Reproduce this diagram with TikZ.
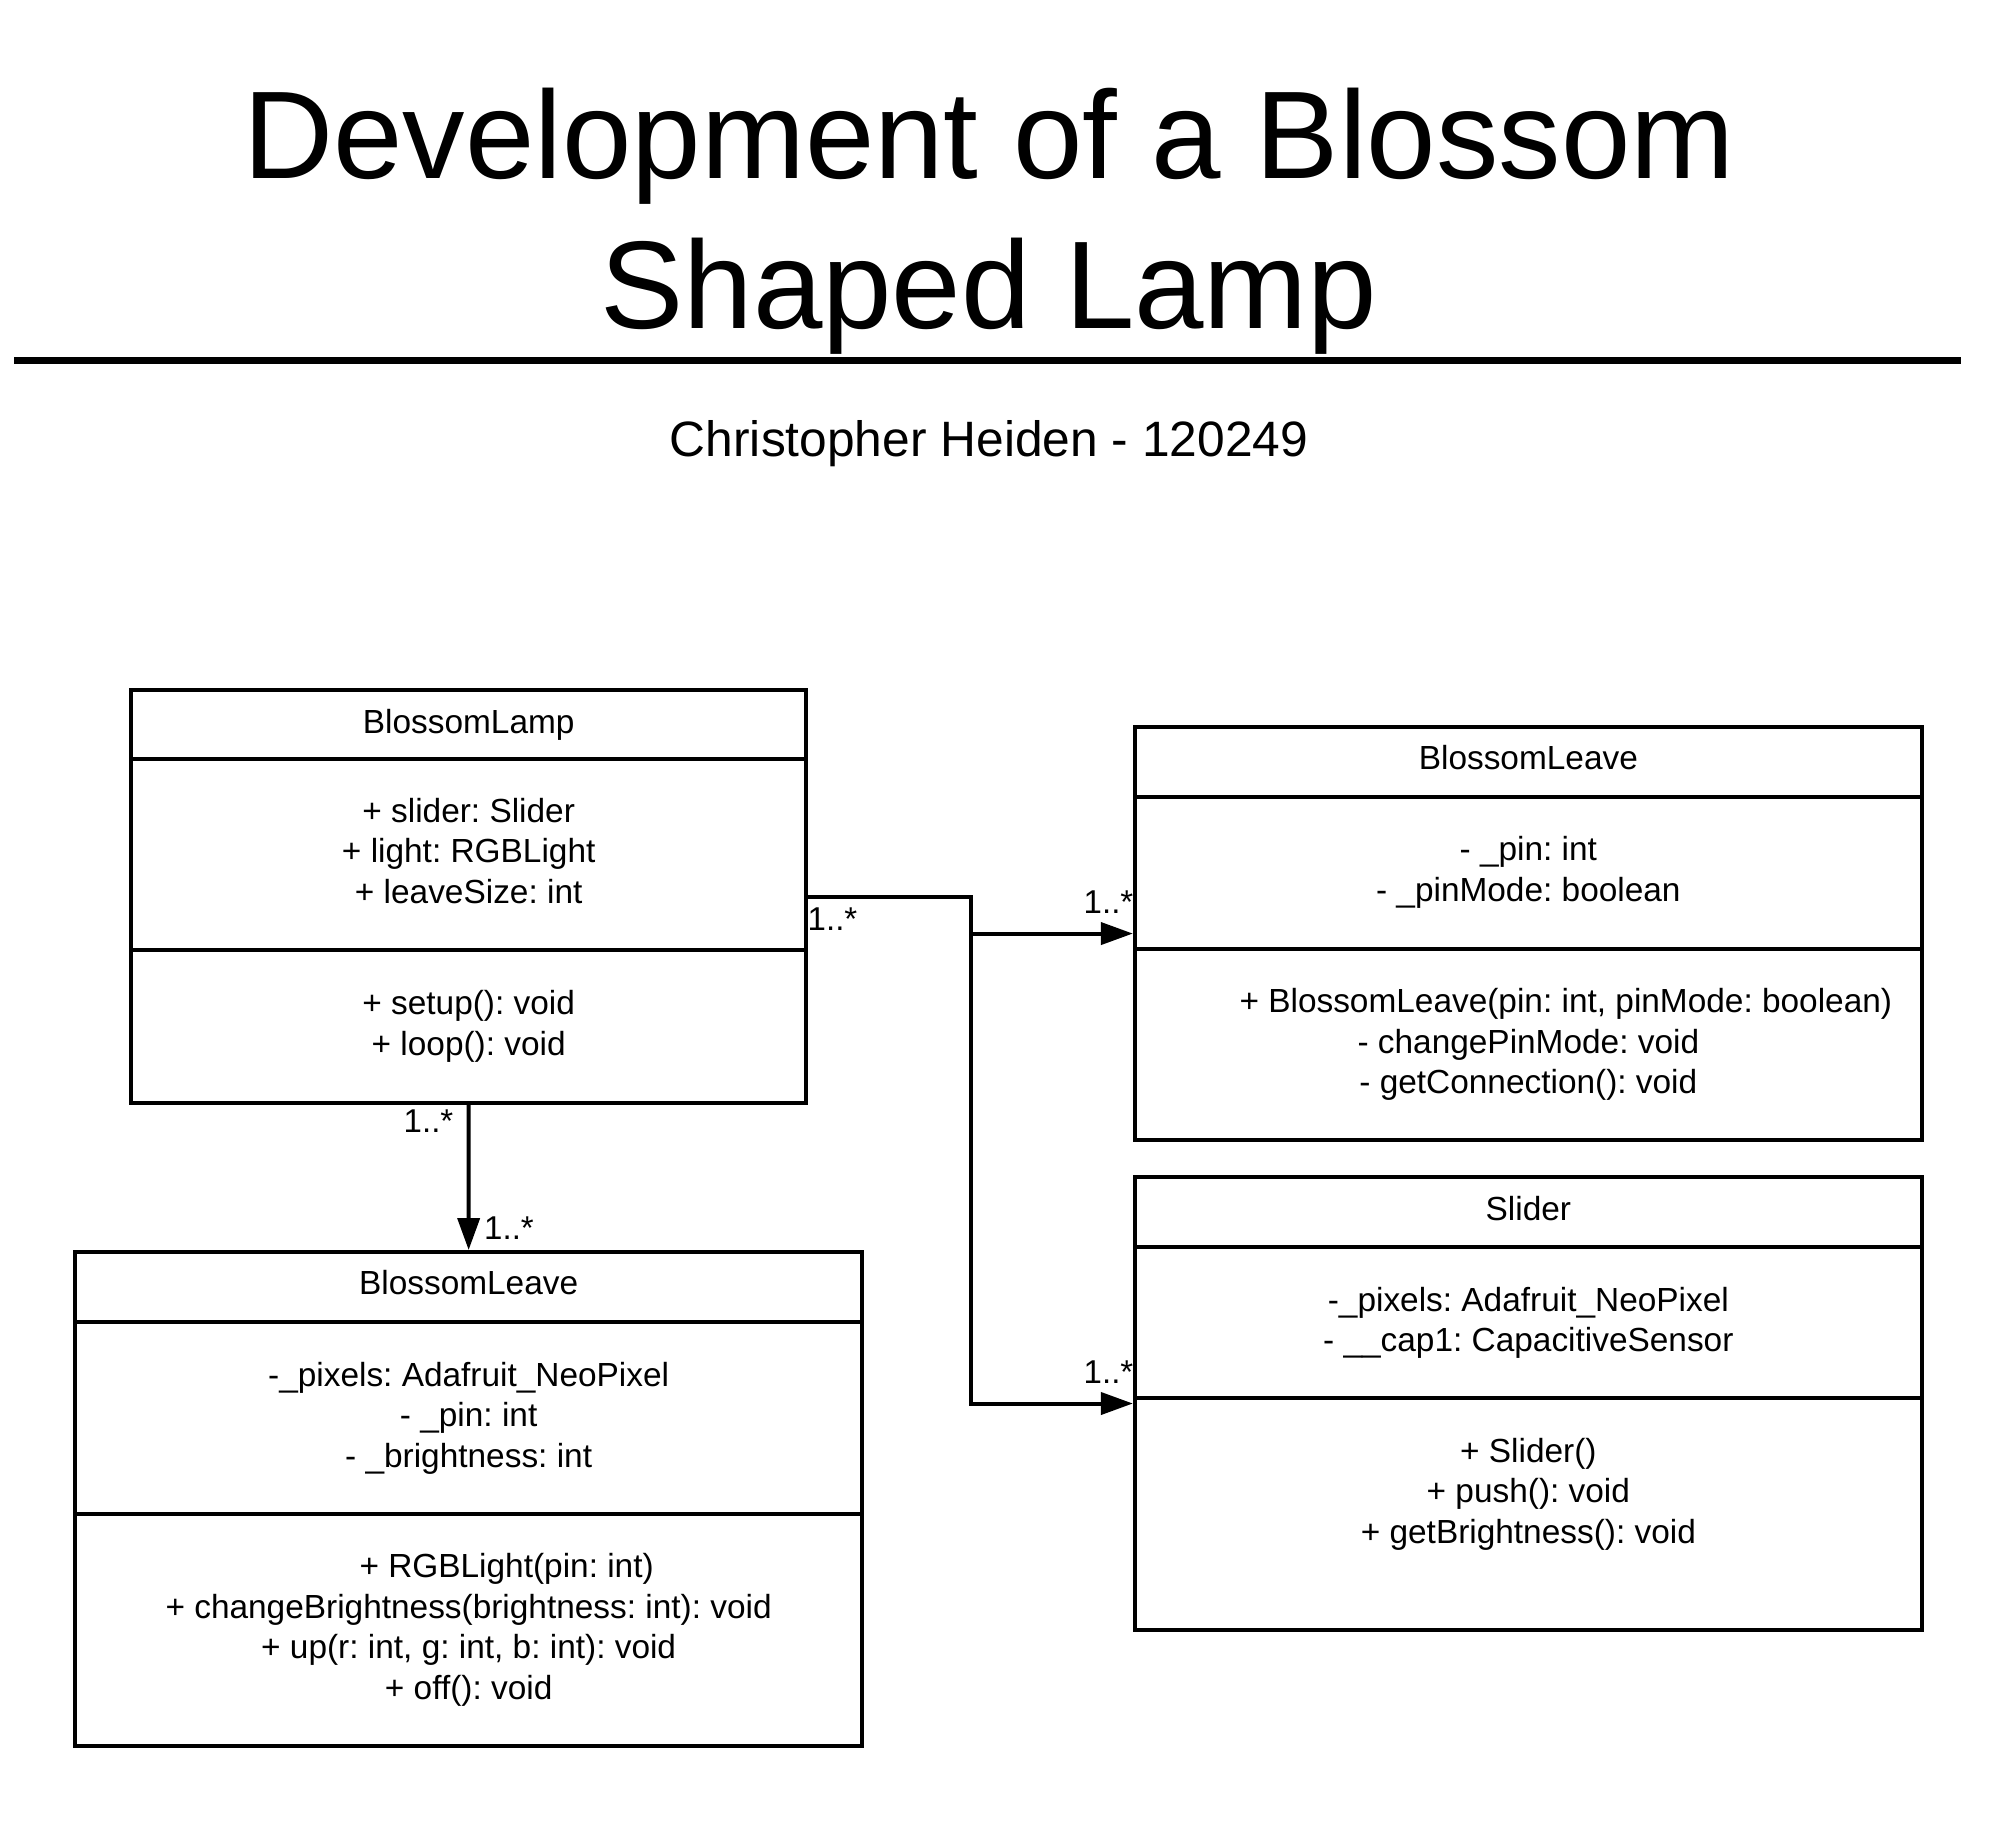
\documentclass[tikz,border=0pt]{standalone}
\usepackage{fontspec}
\setmainfont{Liberation Sans}
\usetikzlibrary{arrows.meta}
\frenchspacing
\begin{document}
\begin{tikzpicture}[x=1pt,y=-1pt,
  box/.style={draw=black, line width=4pt, inner sep=0pt},
  body/.style={font=\fontsize{33.4}{40.6}\selectfont, align=center, inner sep=0pt, text=black},
  mult/.style={font=\fontsize{33}{40}\selectfont, inner sep=0pt, text=black},
  arr/.style={line width=4pt, -{Triangle[length=32pt,width=22pt]}, line join=miter},
  plain/.style={line width=4pt}
]
\useasboundingbox (0,0) rectangle (1997,1823);
% Title
\node[font=\fontsize{124.8}{140}\selectfont, anchor=base, inner sep=0pt] (t1) at (989,178) {Development of a Blossom};
\node[font=\fontsize{124.8}{140}\selectfont, anchor=base, inner sep=0pt] (t2) at (989,328.6) {Shaped Lamp};
\draw[line width=6.5pt] (14,360.5) -- (1961,360.5);
\node[font=\fontsize{49.7}{60}\selectfont, anchor=base, inner sep=0pt] (sub) at (989,456) {Christopher Heiden - 120249};

% BlossomLamp
\node[box, minimum width=675pt, minimum height=412.7pt] (lamp) at (468.7,896.65) {};
\draw[plain] (131.2,759) -- (806.2,759);
\draw[plain] (131.2,950) -- (806.2,950);
\node[body] (lampT) at (468.7,725) {BlossomLamp};
\node[body] (lampA) at (468.7,851) {+ slider: Slider\\+ light: RGBLight\\+ leaveSize: int};
\node[body] (lampM) at (468.7,1026.5) {+ setup(): void\\+ loop(): void};

% BlossomLeave right
\node[box, minimum width=787pt, minimum height=412.7pt] (leaveR) at (1528.35,933.55) {};
\draw[plain] (1134.8,797.3) -- (1921.9,797.3);
\draw[plain] (1134.8,948.8) -- (1921.9,948.8);
\node[body] (leaveRT) at (1528.35,758) {BlossomLeave};
\node[body] (leaveRA) at (1528.35,872.5) {- \_pin: int\\- \_pinMode: boolean};
\node[body] (leaveRM) at (1528.35,1044.5) {\hspace*{75pt}+ BlossomLeave(pin: int, pinMode: boolean)\\- changePinMode: void\\- getConnection(): void};

% Slider
\node[box, minimum width=787pt, minimum height=453.4pt] (slider) at (1528.35,1403.5) {};
\draw[plain] (1134.8,1246.9) -- (1921.9,1246.9);
\draw[plain] (1134.8,1398.4) -- (1921.9,1398.4);
\node[body] (sliderT) at (1528.35,1208.5) {Slider};
\node[body] (sliderA) at (1528.35,1322.75) {-\_pixels: Adafruit\_NeoPixel\\- \_\_cap1: CapacitiveSensor};
\node[body] (sliderM) at (1528.35,1494) {+ Slider()\\+ push(): void\\+ getBrightness(): void};

% BlossomLeave bottom
\node[box, minimum width=787.1pt, minimum height=494.1pt] (leaveB) at (468.65,1499.05) {};
\draw[plain] (75.1,1322) -- (862.2,1322);
\draw[plain] (75.1,1514.3) -- (862.2,1514.3);
\node[body] (leaveBT) at (468.65,1282.5) {BlossomLeave};
\node[body] (leaveBA) at (468.65,1418) {-\_pixels: Adafruit\_NeoPixel\\- \_pin: int\\- \_brightness: int};
\node[body] (leaveBM) at (468.65,1630) {\hspace*{76pt}+ RGBLight(pin: int)\\+ changeBrightness(brightness: int): void\\+ up(r: int, g: int, b: int): void\\+ off(): void};

% Connectors
\coordinate (jb) at (970.5,1403.5);
\coordinate (jm) at (970.5,933.55);
\draw[arr] (lamp.east) -| (jb) -- (slider.west);
\draw[arr] (jm) -- (leaveR.west);
\draw[arr] (lamp.south) -- (leaveB.north);

% Multiplicities
\node[mult] (m1) at (832.5,919.5) {1..*};
\node[mult] (m2) at (1108.5,902) {1..*};
\node[mult] (m3) at (1108.5,1372) {1..*};
\node[mult] (m4) at (428.5,1121) {1..*};
\node[mult] (m5) at (509,1228) {1..*};
\end{tikzpicture}
\end{document}
